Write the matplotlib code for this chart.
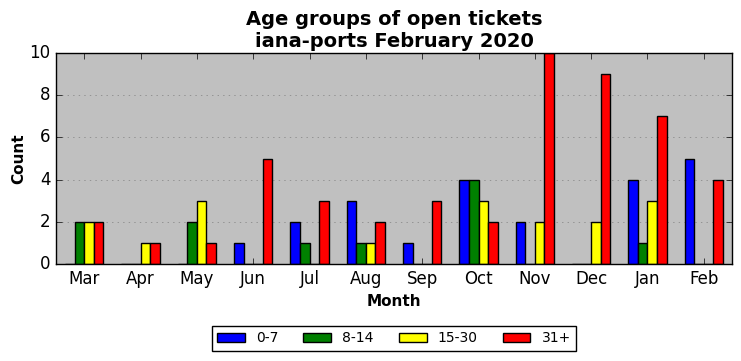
import matplotlib.pyplot as plt
import numpy as np

plt.style.use('classic')

meses = ['Mar', 'Apr', 'May', 'Jun', 'Jul', 'Aug', 'Sep', 'Oct', 'Nov', 'Dec', 'Jan', 'Feb']
grupos = ['0-7', '8-14', '15-30', '31+']
cores = ['blue', 'green', 'yellow', 'red']
d0_7 = [0, 0, 0, 1, 2, 3, 1, 4, 2, 0, 4, 5]
d8_14 = [2, 0, 2, 0, 1, 1, 0, 4, 0, 0, 1, 0]
d15_30 = [2, 1, 3, 0, 0, 1, 0, 3, 2, 2, 3, 0]
d31 = [2, 1, 1, 5, 3, 2, 3, 2, 10, 9, 7, 4]

fig = plt.figure(figsize=(7.41, 3.61), dpi=100, facecolor='white')
ax = fig.add_axes([56/741, 1-264/361, 676/741, 211/361])
ax.set_facecolor('#c0c0c0')

x = np.arange(len(meses))
w = 0.17
for i, (serie, cor, nome) in enumerate(zip([d0_7, d8_14, d15_30, d31], cores, grupos)):
    ax.bar(x + (i - 1.5) * w, serie, w, color=cor, edgecolor='black', linewidth=1, label=nome,
           align='center')

ax.set_xlim(-0.5, len(meses) - 0.5)
ax.set_ylim(0, 10)
ax.set_xticks(x)
ax.set_xticklabels(meses)
ax.yaxis.grid(True, linestyle=':', color='gray')
ax.set_axisbelow(True)
ax.set_title('Age groups of open tickets\niana-ports February 2020', fontsize=14,
             fontweight='bold', y=0.995)
ax.set_xlabel('Month', fontsize=11, fontweight='bold')
ax.set_ylabel('Count', fontsize=11, fontweight='bold', labelpad=2)
ax.legend(loc='upper center', bbox_to_anchor=(0.5, -0.26), ncol=4, fontsize=10,
          frameon=True, fancybox=False, handlelength=2, columnspacing=1.8)

fig.savefig('out.png', dpi=100, facecolor='white')
